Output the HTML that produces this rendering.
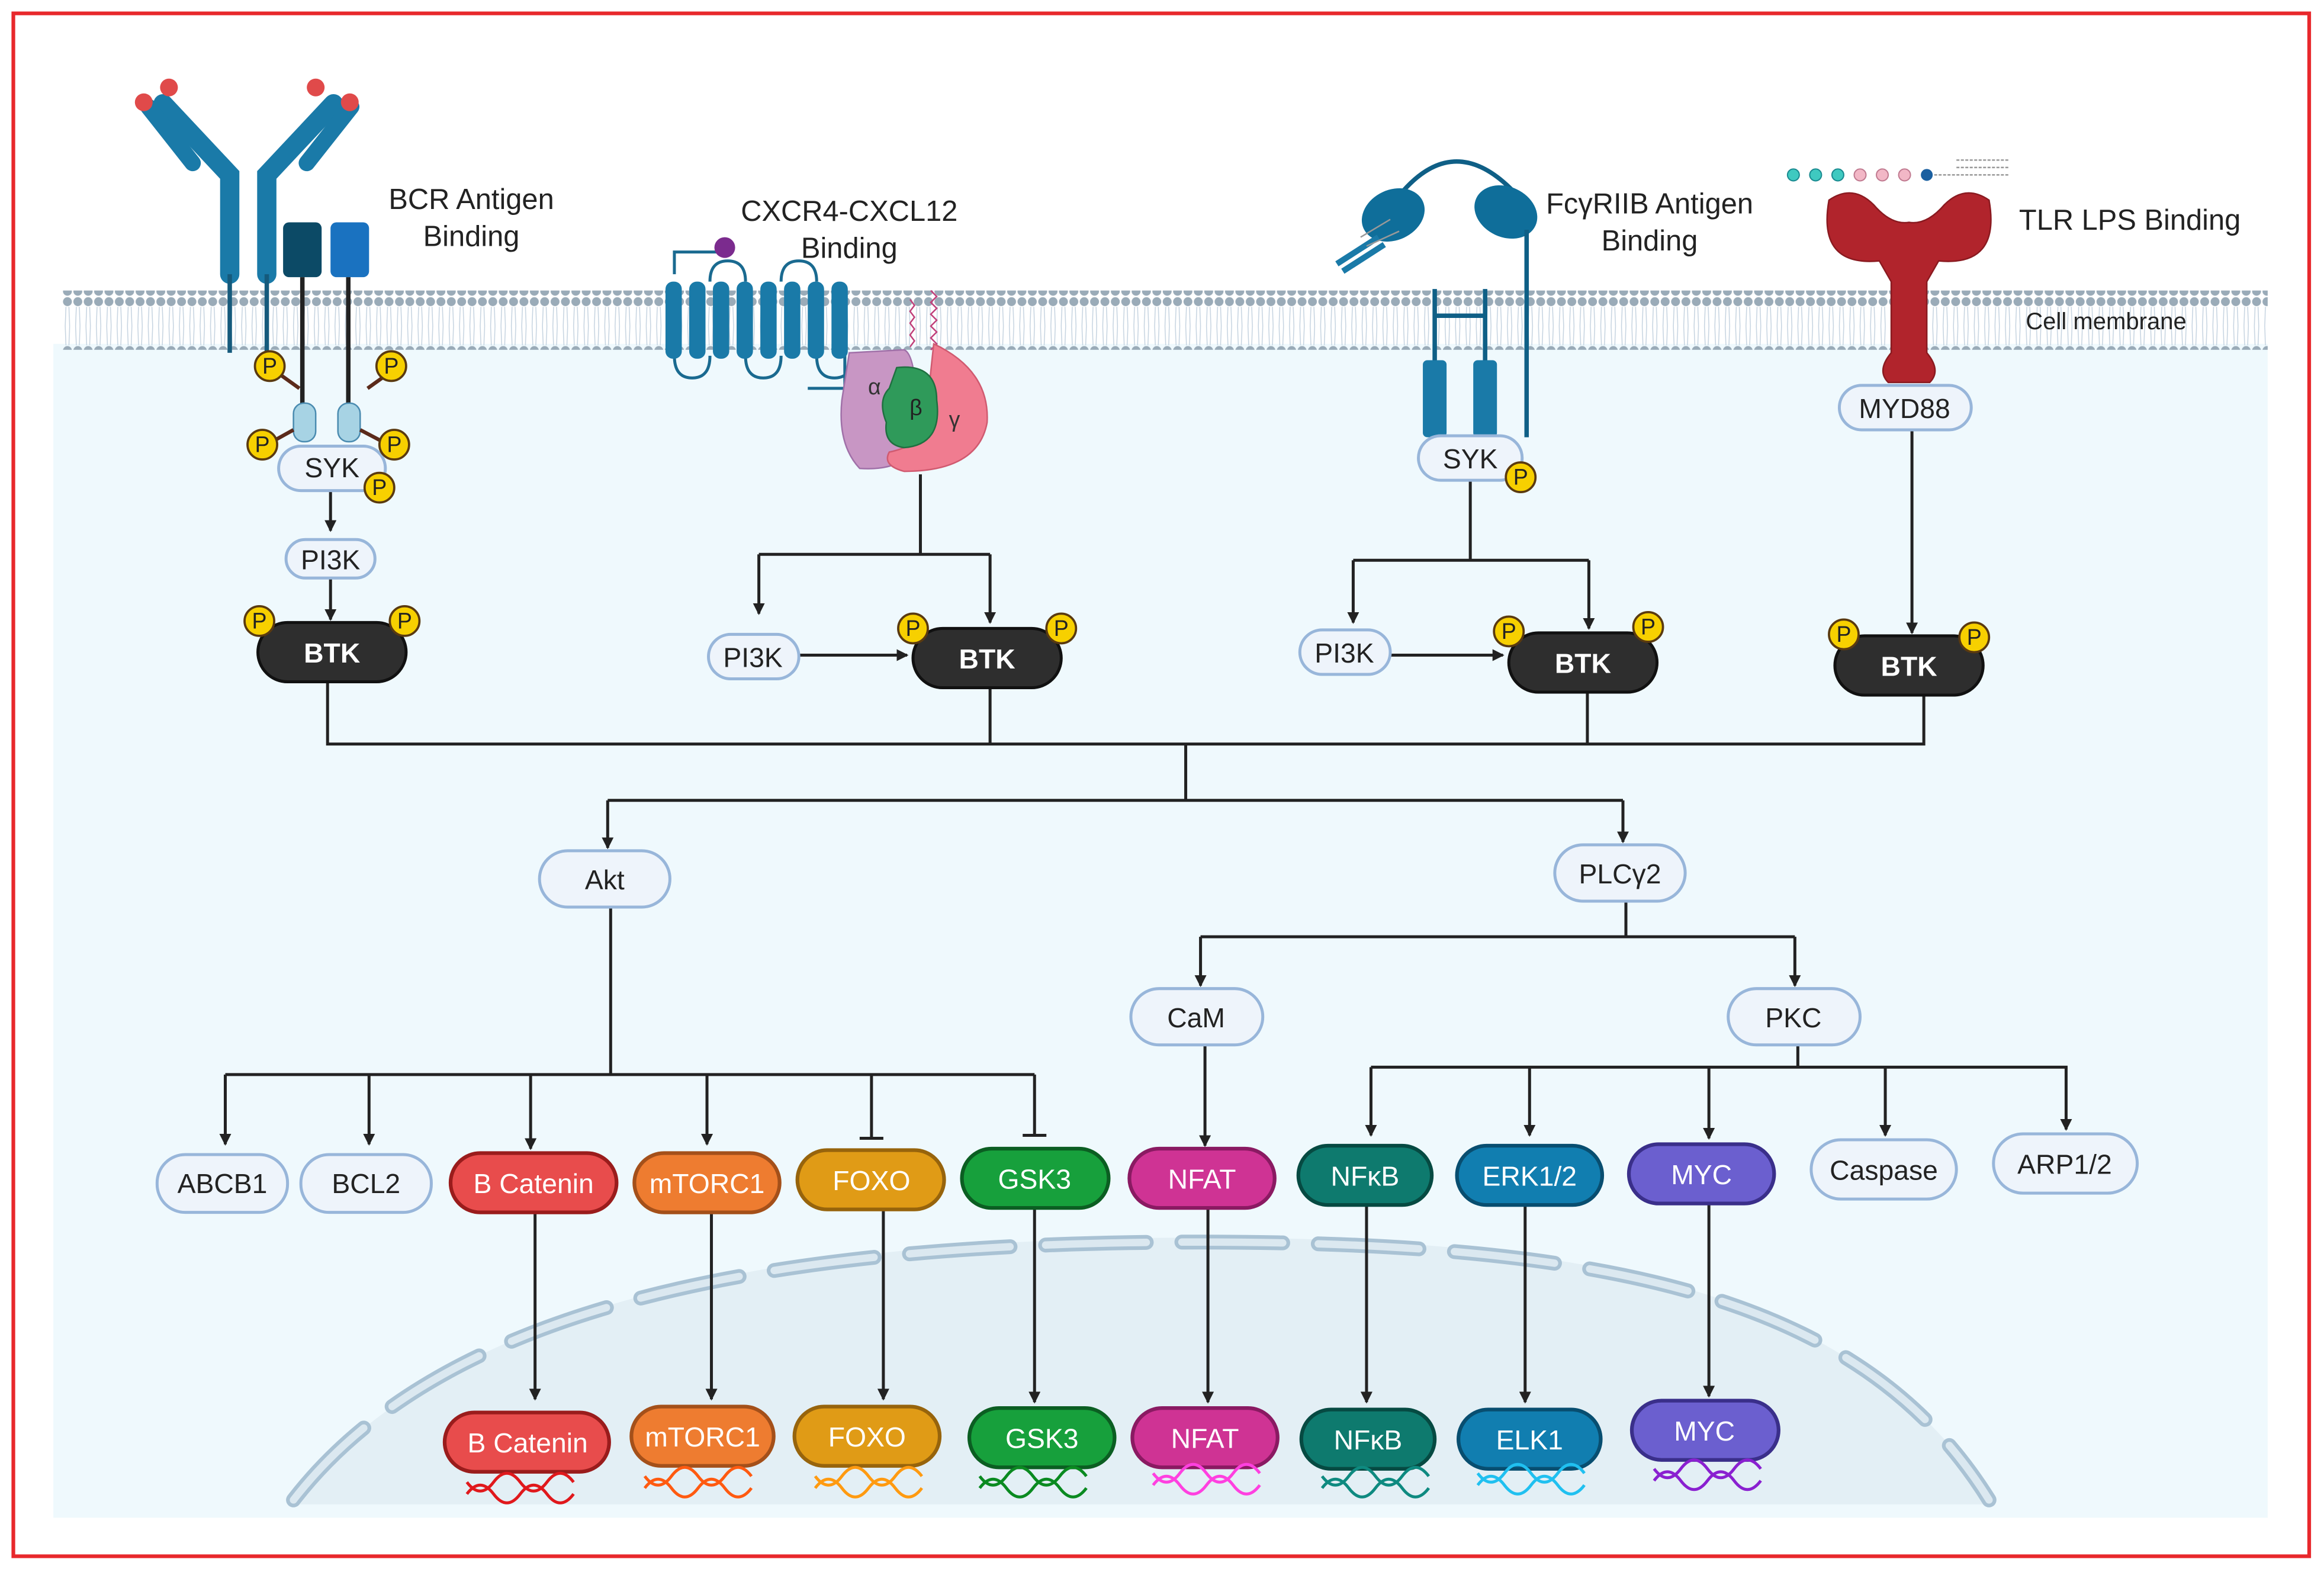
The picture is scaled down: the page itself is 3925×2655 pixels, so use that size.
<!DOCTYPE html>
<html><head><meta charset="utf-8"><style>
html,body{margin:0;padding:0;background:#fff}
svg{display:block}
text{font-family:"Liberation Sans",sans-serif}
</style></head><body>
<svg width="3925" height="2655" viewBox="0 0 1568 1060.6" xmlns="http://www.w3.org/2000/svg">
<defs>
<marker id="ar" markerWidth="8" markerHeight="8" refX="7" refY="4" orient="auto" markerUnits="userSpaceOnUse"><path d="M0,0 L8,4 L0,8 z" fill="#222"/></marker>
<pattern id="lip" x="0" y="0" width="7" height="40" patternUnits="userSpaceOnUse">
<circle cx="3.5" cy="3.5" r="3" fill="#9aabb8"/><circle cx="3.5" cy="36.5" r="3" fill="#9aabb8"/>
<path d="M2.5,7 L2,20 M4.5,7 L5,20 M2,20 L2.5,33 M5,20 L4.5,33" stroke="#c5d3e0" stroke-width="0.6" fill="none"/>
</pattern>
</defs>
<rect x="0" y="0" width="1568" height="1061" fill="#fff"/>
<rect x="9" y="9" width="1549" height="1041" fill="none" stroke="#e8282c" stroke-width="2.5"/>
<rect x="36" y="232" width="1494" height="792" fill="#eff9fd"/>
<!-- nucleus -->
<path d="M195,1015 C300,880 520,835 810,835 C1100,835 1260,880 1345,1015 Z" fill="#e3eff5"/>
<path d="M198,1012 C300,880 520,838 810,838 C1100,838 1260,880 1342,1012" fill="none" stroke="#a9c2d4" stroke-width="10" stroke-dasharray="68,24" stroke-linecap="round"/>
<path d="M198,1012 C300,880 520,838 810,838 C1100,838 1260,880 1342,1012" fill="none" stroke="#dbe8f0" stroke-width="5" stroke-dasharray="68,24" stroke-linecap="round"/>
<!-- membrane -->
<rect x="42" y="196" width="1488" height="40" fill="url(#lip)"/>
<text x="1421" y="222" font-size="16" text-anchor="middle" fill="#222">Cell membrane</text>

<!-- BCR receptor -->
<g stroke="#1a7aa8" stroke-linecap="round" fill="none">
<path d="M155,185 L155,118 L110,70" stroke-width="13"/>
<path d="M180,185 L180,118 L225,70" stroke-width="13"/>
<path d="M100,72 L130,110" stroke-width="11"/>
<path d="M237,72 L207,110" stroke-width="11"/>
</g>
<g fill="#e04a4a"><circle cx="97" cy="69" r="6"/><circle cx="114" cy="59" r="6"/><circle cx="213" cy="59" r="6"/><circle cx="236" cy="69" r="6"/></g>
<path d="M155,185 L155,238 M180,185 L180,238" stroke="#155a7c" stroke-width="3"/>
<rect x="191" y="150" width="26" height="37" rx="4" fill="#0c4a66"/>
<rect x="223" y="150" width="26" height="37" rx="4" fill="#1a72c0"/>
<path d="M204,187 L204,278 M235,187 L235,278" stroke="#222" stroke-width="3"/>
<rect x="198" y="272" width="15" height="26" rx="7" fill="#a7d3e4" stroke="#4a8bb0"/>
<rect x="228" y="272" width="15" height="26" rx="7" fill="#a7d3e4" stroke="#4a8bb0"/>
<path d="M188,252 L202,262 M262,252 L248,262 M180,300 L198,290 M262,300 L243,290" stroke="#5b2a1a" stroke-width="2.5"/>
<text x="318" y="141" font-size="19.5" text-anchor="middle" fill="#222">BCR Antigen</text>
<text x="318" y="166" font-size="19.5" text-anchor="middle" fill="#222">Binding</text>

<!-- CXCR4 -->
<g stroke="#1a6a90" stroke-width="2" fill="none">
<path d="M455,185 L455,170 L485,170"/>
<path d="M455,240 Q455,255 467,255 Q479,255 479,240 M479,190 Q479,176 491,176 Q503,176 503,190 M503,240 Q503,255 515,255 Q527,255 527,240 M527,190 Q527,176 539,176 Q551,176 551,190 M551,240 Q551,255 563,255 Q575,255 575,240 M570,240 L570,262 L545,262"/>
</g>
<circle cx="489" cy="167" r="7" fill="#7b2b8e"/>
<g fill="#1a7aa8">
<rect x="449" y="190" width="11" height="52" rx="5"/><rect x="465" y="190" width="11" height="52" rx="5"/><rect x="481" y="190" width="11" height="52" rx="5"/><rect x="497" y="190" width="11" height="52" rx="5"/><rect x="513" y="190" width="11" height="52" rx="5"/><rect x="529" y="190" width="11" height="52" rx="5"/><rect x="545" y="190" width="11" height="52" rx="5"/><rect x="561" y="190" width="11" height="52" rx="5"/>
</g>
<path d="M614,202 l3,4 -3,4 3,4 -3,4 3,4 -3,4 3,4 -3,4 M628,196 l4,4 -4,4 4,4 -4,4 4,4 -4,4 4,4 -4,4 4,4 -4,4" stroke="#c0407a" stroke-width="1" fill="none"/>
<path d="M573,238 L610,236 Q620,240 618,300 Q610,318 580,316 Q565,300 568,270 Z" fill="#c896c4" stroke="#a070a8"/>
<path d="M630,232 Q668,250 666,285 Q660,318 610,318 Q595,314 600,305 Q625,300 625,280 Q628,250 630,232 Z" fill="#f07c90" stroke="#d05a70"/>
<path d="M605,248 Q632,245 632,270 Q636,300 610,302 Q596,300 598,285 Q592,270 600,262 Z" fill="#2f9a5a" stroke="#1f7040"/>
<text x="590" y="266" font-size="15" fill="#333" text-anchor="middle">α</text>
<text x="618" y="280" font-size="15" fill="#222" text-anchor="middle">β</text>
<text x="644" y="288" font-size="15" fill="#333" text-anchor="middle">γ</text>
<text x="573" y="149" font-size="19.5" text-anchor="middle" fill="#222">CXCR4-CXCL12</text>
<text x="573" y="174" font-size="19.5" text-anchor="middle" fill="#222">Binding</text>

<!-- FcγRIIB -->
<path d="M944,132 Q980,88 1020,128" stroke="#0f5f86" stroke-width="3" fill="none"/>
<ellipse cx="940" cy="145" rx="22" ry="17" fill="#0f6e9a" transform="rotate(-25 940 145)"/>
<ellipse cx="1016" cy="143" rx="22" ry="17" fill="#0f6e9a" transform="rotate(25 1016 143)"/>
<path d="M1030,155 L1030,295" stroke="#0f5f86" stroke-width="3"/>
<path d="M968,195 L968,245 M1002,195 L1002,245 M968,213 L1002,213" stroke="#0f5f86" stroke-width="3" fill="none"/>
<rect x="960" y="243" width="16" height="52" rx="3" fill="#1a7aa8"/>
<rect x="994" y="243" width="16" height="52" rx="3" fill="#1a7aa8"/>
<path d="M902,178 L930,160 M906,183 L934,165" stroke="#1a7aa8" stroke-width="4"/>
<path d="M918,160 l20,-12 M922,166 l22,-10" stroke="#999" stroke-width="1"/>
<text x="1113" y="144" font-size="19.5" text-anchor="middle" fill="#222">FcγRIIB Antigen</text>
<text x="1113" y="169" font-size="19.5" text-anchor="middle" fill="#222">Binding</text>

<!-- TLR -->
<g fill="#3fc9c0" stroke="#1a8a90" stroke-width="0.8"><circle cx="1210" cy="118" r="4"/><circle cx="1225" cy="118" r="4"/><circle cx="1240" cy="118" r="4"/></g>
<g fill="#f2b7c6" stroke="#c07a90" stroke-width="0.8"><circle cx="1255" cy="118" r="4"/><circle cx="1270" cy="118" r="4"/><circle cx="1285" cy="118" r="4"/></g>
<circle cx="1300" cy="118" r="4" fill="#1a5fa0"/>
<path d="M1305,118 l50,0 M1320,108 l35,0 M1320,113 l35,0" stroke="#999" stroke-width="1" stroke-dasharray="2,1"/>
<path d="M1234,135 Q1226,180 1268,176 L1276,190 L1276,238 Q1266,250 1274,258 L1302,258 Q1310,250 1300,238 L1300,190 L1308,176 Q1350,180 1342,135 Q1326,124 1312,138 Q1300,152 1288,150 Q1276,152 1264,138 Q1250,124 1234,135 Z" fill="#b1242c" stroke="#8a1a20"/>
<text x="1437" y="155" font-size="19.5" text-anchor="middle" fill="#222">TLR  LPS Binding</text>

<!-- connectors -->
<g stroke="#222" stroke-width="2" fill="none">
<path d="M223,331 L223,358" marker-end="url(#ar)"/>
<path d="M223,390 L223,418" marker-end="url(#ar)"/>
<path d="M621,320 L621,374 M512,374 L668,374"/>
<path d="M512,374 L512,414" marker-end="url(#ar)"/>
<path d="M668,374 L668,420" marker-end="url(#ar)"/>
<path d="M539,442 L612,442" marker-end="url(#ar)"/>
<path d="M992,324 L992,378 M913,378 L1072,378"/>
<path d="M913,378 L913,420" marker-end="url(#ar)"/>
<path d="M1072,378 L1072,424" marker-end="url(#ar)"/>
<path d="M938,442 L1014,442" marker-end="url(#ar)"/>
<path d="M1290,290 L1290,427" marker-end="url(#ar)"/>
<path d="M221,460 L221,502 L1298,502 L1298,468 M668,464 L668,502 M1071,467 L1071,502"/>
<path d="M800,502 L800,540 M410,540 L1095,540"/>
<path d="M410,540 L410,572" marker-end="url(#ar)"/>
<path d="M1095,540 L1095,568" marker-end="url(#ar)"/>
<path d="M412,612 L412,725 M152,725 L698,725"/>
<path d="M152,725 L152,772" marker-end="url(#ar)"/>
<path d="M249,725 L249,772" marker-end="url(#ar)"/>
<path d="M358,725 L358,775" marker-end="url(#ar)"/>
<path d="M477,725 L477,772" marker-end="url(#ar)"/>
<path d="M588,725 L588,768 M580,768 L596,768"/>
<path d="M698,725 L698,766 M690,766 L706,766"/>
<path d="M1097,608 L1097,632 M810,632 L1211,632"/>
<path d="M810,632 L810,665" marker-end="url(#ar)"/>
<path d="M1211,632 L1211,665" marker-end="url(#ar)"/>
<path d="M813,705 L813,773" marker-end="url(#ar)"/>
<path d="M1213,705 L1213,720 M925,720 L1395,720"/>
<path d="M925,720 L925,766" marker-end="url(#ar)"/>
<path d="M1032,720 L1032,766" marker-end="url(#ar)"/>
<path d="M1153,720 L1153,768" marker-end="url(#ar)"/>
<path d="M1272,720 L1272,766" marker-end="url(#ar)"/>
<path d="M1394,720 L1394,762" marker-end="url(#ar)"/>
<path d="M361,817 L361,944" marker-end="url(#ar)"/>
<path d="M480,817 L480,944" marker-end="url(#ar)"/>
<path d="M596,815 L596,944" marker-end="url(#ar)"/>
<path d="M698,815 L698,946" marker-end="url(#ar)"/>
<path d="M815,815 L815,946" marker-end="url(#ar)"/>
<path d="M922,812 L922,946" marker-end="url(#ar)"/>
<path d="M1029,812 L1029,946" marker-end="url(#ar)"/>
<path d="M1153,812 L1153,942" marker-end="url(#ar)"/>
</g>

<!-- light nodes -->
<g fill="#eef4fb" stroke="#98b6da" stroke-width="2">
<rect x="188" y="301" width="72" height="30" rx="15"/>
<rect x="193" y="364" width="60" height="26" rx="13"/>
<rect x="478" y="428" width="61" height="30" rx="15"/>
<rect x="957" y="294" width="70" height="30" rx="15"/>
<rect x="877" y="425" width="61" height="30" rx="15"/>
<rect x="1241" y="260" width="89" height="30" rx="15"/>
<rect x="364" y="574" width="88" height="38" rx="19"/>
<rect x="1049" y="570" width="88" height="38" rx="19"/>
<rect x="763" y="667" width="89" height="38" rx="19"/>
<rect x="1166" y="667" width="89" height="38" rx="19"/>
<rect x="106" y="779" width="88" height="39" rx="19"/>
<rect x="203" y="779" width="88" height="39" rx="19"/>
<rect x="1222" y="769" width="98" height="40" rx="20"/>
<rect x="1345" y="765" width="97" height="40" rx="20"/>
</g>
<g font-size="18.5" text-anchor="middle" fill="#222">
<text x="224" y="322">SYK</text><text x="223" y="384">PI3K</text><text x="508" y="450">PI3K</text>
<text x="992" y="316">SYK</text><text x="907" y="447">PI3K</text><text x="1285" y="282">MYD88</text>
<text x="408" y="600">Akt</text><text x="1093" y="596">PLCγ2</text><text x="807" y="693">CaM</text><text x="1210" y="693">PKC</text>
<text x="150" y="805">ABCB1</text><text x="247" y="805">BCL2</text><text x="1271" y="796">Caspase</text><text x="1393" y="792">ARP1/2</text>
</g>
<!-- BTK -->
<g fill="#2e2e2e" stroke="#111" stroke-width="2">
<rect x="174" y="420" width="100" height="40" rx="20"/>
<rect x="616" y="424" width="100" height="40" rx="20"/>
<rect x="1018" y="427" width="100" height="40" rx="20"/>
<rect x="1238" y="429" width="100" height="40" rx="20"/>
</g>
<g font-size="18.5" text-anchor="middle" fill="#fff" font-weight="bold">
<text x="224" y="447">BTK</text><text x="666" y="451">BTK</text><text x="1068" y="454">BTK</text><text x="1288" y="456">BTK</text>
</g>
<!-- P circles -->
<g fill="#f7d000" stroke="#5a3a10" stroke-width="1.5">
<circle cx="182" cy="247" r="10"/><circle cx="264" cy="247" r="10"/><circle cx="177" cy="300" r="10"/><circle cx="266" cy="300" r="10"/><circle cx="256" cy="329" r="10"/>
<circle cx="175" cy="419" r="10"/><circle cx="273" cy="419" r="10"/>
<circle cx="616" cy="424" r="10"/><circle cx="716" cy="424" r="10"/>
<circle cx="1026" cy="322" r="10"/>
<circle cx="1018" cy="426" r="10"/><circle cx="1112" cy="423" r="10"/>
<circle cx="1244" cy="428" r="10"/><circle cx="1332" cy="430" r="10"/>
</g>
<g font-size="15" text-anchor="middle" fill="#222">
<text x="182" y="252">P</text><text x="264" y="252">P</text><text x="177" y="305">P</text><text x="266" y="305">P</text><text x="256" y="334">P</text>
<text x="175" y="424">P</text><text x="273" y="424">P</text><text x="616" y="429">P</text><text x="716" y="429">P</text>
<text x="1026" y="327">P</text><text x="1018" y="431">P</text><text x="1112" y="428">P</text><text x="1244" y="433">P</text><text x="1332" y="435">P</text>
</g>

<!-- colored nodes -->
<g stroke-width="2.5">
<rect x="304" y="778" width="112" height="40" rx="20" fill="#e84c4c" stroke="#9a1c1c"/>
<rect x="428" y="778" width="98" height="40" rx="20" fill="#ee7c30" stroke="#a4501a"/>
<rect x="538" y="776" width="99" height="40" rx="20" fill="#e09b16" stroke="#97640c"/>
<rect x="649" y="775" width="99" height="40" rx="20" fill="#17a03c" stroke="#0b5e22"/>
<rect x="762" y="775" width="98" height="40" rx="20" fill="#cf3394" stroke="#8a1a62"/>
<rect x="876" y="773" width="90" height="40" rx="20" fill="#0e7a6e" stroke="#064a42"/>
<rect x="983" y="773" width="98" height="40" rx="20" fill="#117eb0" stroke="#084e70"/>
<rect x="1099" y="772" width="98" height="40" rx="20" fill="#6b5fcf" stroke="#3a2f8a"/>
<rect x="300" y="953" width="111" height="40" rx="20" fill="#e84c4c" stroke="#9a1c1c"/>
<rect x="426" y="949" width="96" height="40" rx="20" fill="#ee7c30" stroke="#a4501a"/>
<rect x="536" y="949" width="98" height="40" rx="20" fill="#e09b16" stroke="#97640c"/>
<rect x="654" y="950" width="98" height="40" rx="20" fill="#17a03c" stroke="#0b5e22"/>
<rect x="764" y="950" width="98" height="40" rx="20" fill="#cf3394" stroke="#8a1a62"/>
<rect x="878" y="951" width="90" height="40" rx="20" fill="#0e7a6e" stroke="#064a42"/>
<rect x="984" y="951" width="96" height="40" rx="20" fill="#117eb0" stroke="#084e70"/>
<rect x="1101" y="945" width="99" height="40" rx="20" fill="#6b5fcf" stroke="#3a2f8a"/>
</g>
<g font-size="18.5" text-anchor="middle" fill="#fff">
<text x="360" y="805">B Catenin</text><text x="477" y="805">mTORC1</text><text x="588" y="803">FOXO</text><text x="698" y="802">GSK3</text>
<text x="811" y="802">NFAT</text><text x="921" y="800">NFκB</text><text x="1032" y="800">ERK1/2</text><text x="1148" y="799">MYC</text>
<text x="356" y="980">B Catenin</text><text x="474" y="976">mTORC1</text><text x="585" y="976">FOXO</text><text x="703" y="977">GSK3</text>
<text x="813" y="977">NFAT</text><text x="923" y="978">NFκB</text><text x="1032" y="978">ELK1</text><text x="1150" y="972">MYC</text>
</g>
<!-- DNA -->
<g fill="none" stroke-width="2">
<path d="M315,1000 q9,12 18,0 t18,0 t18,0 t18,0 M315,1008 q9,-12 18,0 t18,0 t18,0 t18,0" stroke="#e0181c"/>
<path d="M435,996 q9,12 18,0 t18,0 t18,0 t18,0 M435,1004 q9,-12 18,0 t18,0 t18,0 t18,0" stroke="#ff5a10"/>
<path d="M550,996 q9,12 18,0 t18,0 t18,0 t18,0 M550,1004 q9,-12 18,0 t18,0 t18,0 t18,0" stroke="#ff9a10"/>
<path d="M661,996 q9,12 18,0 t18,0 t18,0 t18,0 M661,1004 q9,-12 18,0 t18,0 t18,0 t18,0" stroke="#0a8a20"/>
<path d="M778,994 q9,12 18,0 t18,0 t18,0 t18,0 M778,1002 q9,-12 18,0 t18,0 t18,0 t18,0" stroke="#ff40e0"/>
<path d="M892,996 q9,12 18,0 t18,0 t18,0 t18,0 M892,1004 q9,-12 18,0 t18,0 t18,0 t18,0" stroke="#0e8a80"/>
<path d="M997,994 q9,12 18,0 t18,0 t18,0 t18,0 M997,1002 q9,-12 18,0 t18,0 t18,0 t18,0" stroke="#20c0f0"/>
<path d="M1116,991 q9,12 18,0 t18,0 t18,0 t18,0 M1116,999 q9,-12 18,0 t18,0 t18,0 t18,0" stroke="#8a20d0"/>
</g>
</svg>
</body></html>
